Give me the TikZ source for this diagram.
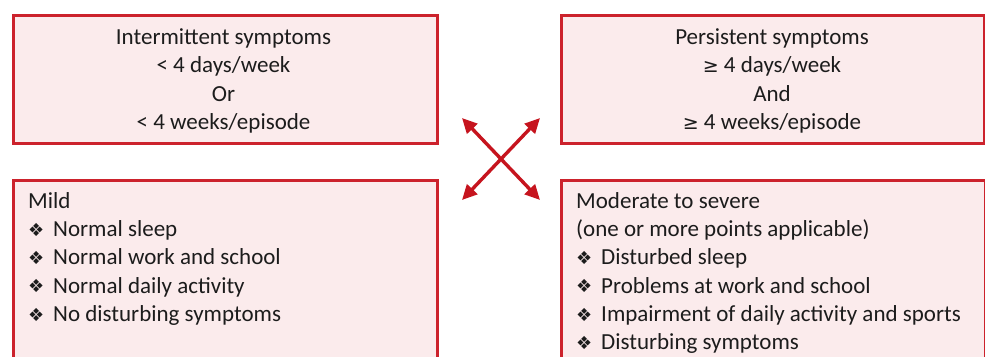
\documentclass[tikz,border=0pt]{standalone}
\usepackage{fontspec}
\setmainfont{Carlito}
\newfontfamily\dv{DejaVu Sans}
\usetikzlibrary{arrows.meta}
\definecolor{boxred}{RGB}{204,34,44}
\definecolor{boxfill}{RGB}{251,235,236}
\definecolor{arrred}{RGB}{198,20,30}
\definecolor{txt}{RGB}{28,28,28}
\newcommand{\bul}{\makebox[25pt][l]{\raisebox{0.5pt}{\dv\fontsize{18}{18}\selectfont ❖}}}
\newcommand{\mygeq}{{\dv\fontsize{19}{19}\selectfont ≥}}
\begin{document}
\begin{tikzpicture}[x=1pt,y=-1pt,
  panel/.style={draw=boxred, fill=boxfill, line width=3pt, anchor=north west, inner sep=0pt},
  ln/.style={inner sep=0pt, font=\fontsize{23}{28}\selectfont, text=txt},
  dbl/.style={{Triangle[length=15pt,width=14pt]}-{Triangle[length=15pt,width=14pt]}, draw=arrred, line width=3.4pt}]
\useasboundingbox (0,0) rectangle (985,356);
\clip (0,0) rectangle (985,356);
\fill[white] (0,0) rectangle (985,356);
% boxes
\node[panel, minimum width=424pt, minimum height=128pt] (tl) at (11.5,13.5) {};
\node[panel, minimum width=423pt, minimum height=128pt] (tr) at (560,13.5) {};
\node[panel, minimum width=424pt, minimum height=200pt] (bl) at (11.5,178.5) {};
\node[panel, minimum width=424pt, minimum height=200pt] (br) at (559.5,178.5) {};
% top-left text
\node[ln, anchor=base] (tl1) at (223.5,44.5) {Intermittent symptoms};
\node[ln, anchor=base] (tl2) at (223.5,72.8) {< 4 days/week};
\node[ln, anchor=base] (tl3) at (223.5,101.1) {Or};
\node[ln, anchor=base] (tl4) at (223.5,129.4) {< 4 weeks/episode};
% top-right text
\node[ln, anchor=base] (tr1) at (772,44.5) {Persistent symptoms};
\node[ln, anchor=base] (tr2) at (772,72.8) {\mygeq\ 4 days/week};
\node[ln, anchor=base] (tr3) at (772,101.1) {And};
\node[ln, anchor=base] (tr4) at (772,129.4) {\mygeq\ 4 weeks/episode};
% bottom-left text
\node[ln, anchor=base west] (bl1) at (28,208.3) {Mild};
\node[ln, anchor=base west] (bl2) at (28,236.6) {\bul Normal sleep};
\node[ln, anchor=base west] (bl3) at (28,264.9) {\bul Normal work and school};
\node[ln, anchor=base west] (bl4) at (28,293.2) {\bul Normal daily activity};
\node[ln, anchor=base west] (bl5) at (28,321.5) {\bul No disturbing symptoms};
% bottom-right text
\node[ln, anchor=base west] (br1) at (576,208.3) {Moderate to severe};
\node[ln, anchor=base west] (br2) at (576,236.6) {(one or more points applicable)};
\node[ln, anchor=base west] (br3) at (576,264.9) {\bul Disturbed sleep};
\node[ln, anchor=base west] (br4) at (576,293.2) {\bul Problems at work and school};
\node[ln, anchor=base west] (br5) at (576,321.5) {\bul Impairment of daily activity and sports};
\node[ln, anchor=base west] (br6) at (576,349.8) {\bul Disturbing symptoms};
% arrows
\coordinate (a1) at (462,118);
\coordinate (a2) at (540,200);
\coordinate (a3) at (540,118);
\coordinate (a4) at (462,200);
\draw[dbl] (a1) -- (a2);
\draw[dbl] (a3) -- (a4);
\end{tikzpicture}
\end{document}
